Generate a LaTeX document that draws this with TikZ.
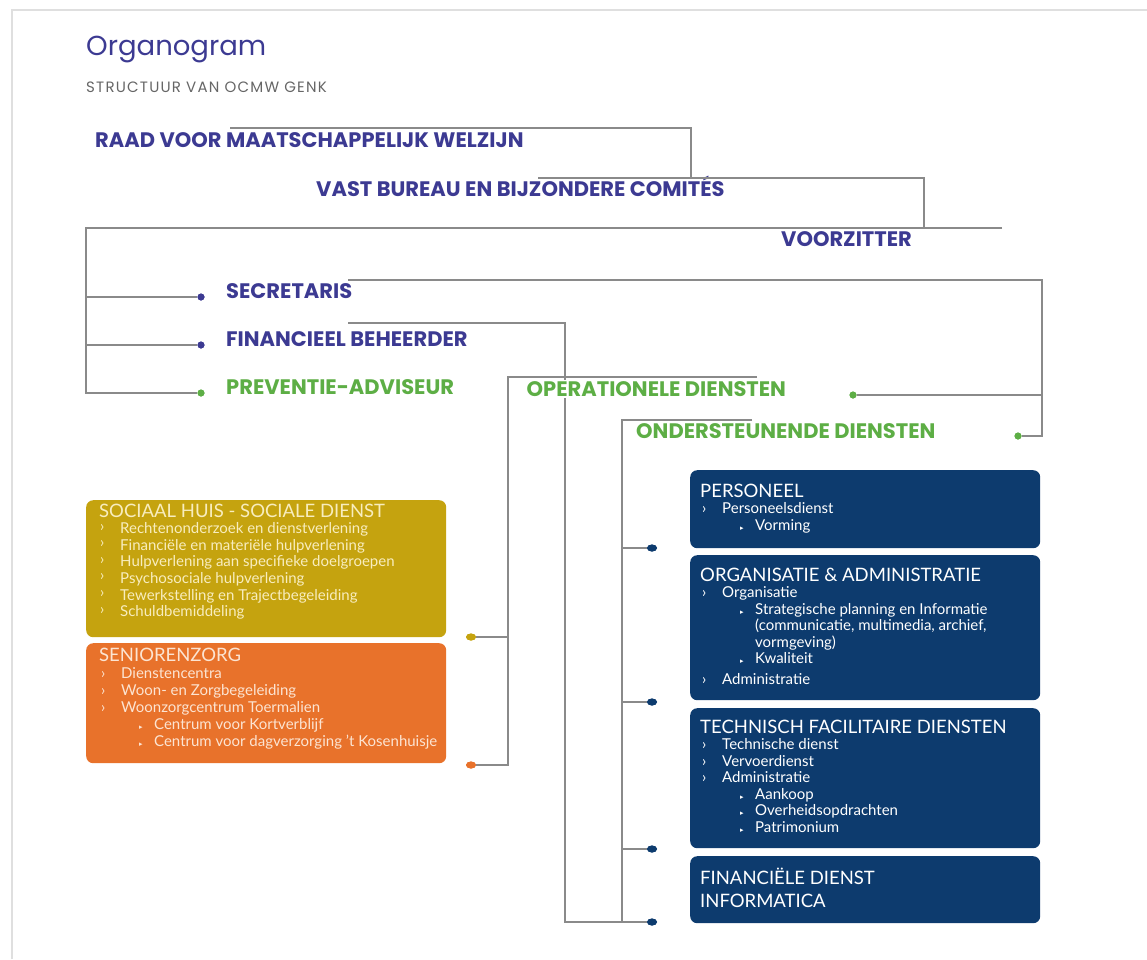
\documentclass[tikz,border=0pt]{standalone}
\usepackage{fontspec}
\setmainfont{Lato}
\newfontfamily\headfont{Poppins}
\newfontfamily\symfont{DejaVu Sans}
\usetikzlibrary{shapes.geometric}

\definecolor{headblue}{HTML}{3C3A92}
\definecolor{headgreen}{HTML}{5DAE45}
\definecolor{linegray}{HTML}{8A8A8A}
\definecolor{mustard}{HTML}{C5A30F}
\definecolor{orangebox}{HTML}{E8722B}
\definecolor{navy}{HTML}{0D3B6E}
\definecolor{cream}{HTML}{F8EDBE}
\definecolor{peach}{HTML}{FCE4D2}

% list lines inside the boxes
\newcommand{\itm}[1]{\par\noindent\makebox[22pt][l]{\kern2pt›}#1}
\newcommand{\itmup}[1]{\par\noindent\makebox[21pt][l]{\kern1pt\raisebox{2.5pt}{›}}#1}
\newcommand{\subitm}[1]{\par\noindent\makebox[55pt][l]{\hspace*{40pt}{\symfont\fontsize{7}{7}\selectfont ▸}}#1}
\newcommand{\contitm}[1]{\par\noindent\hspace*{55pt}#1}
\newcommand{\boxtext}[3][16.5pt]{\parbox[t]{340pt}{\raggedright\fontsize{18.5}{17}\selectfont #2\par\fontsize{15}{#1}\selectfont #3}}

\begin{document}
\begin{tikzpicture}[x=1pt,y=-1pt,
    head/.style={anchor=base west, inner sep=0pt, font=\headfont\bfseries\fontsize{21}{23}\selectfont, text=headblue},
    greenhead/.style={head, text=headgreen},
    conn/.style={draw=linegray, line width=1.1pt},
    dot/.style={circle, inner sep=0pt, minimum size=7pt, fill=#1},
    bdot/.style={ellipse, inner sep=0pt, minimum width=10pt, minimum height=7pt, fill=#1},
    box/.style={rectangle, rounded corners=7pt, anchor=north west, inner sep=0pt, fill=#1},
    boxtxt/.style={anchor=base west, inner sep=0pt, text=#1}]
\useasboundingbox (0,0) rectangle (1147,959);
\draw[gray!25, line width=2pt] (12,959) -- (12,10) -- (1147,10);

\node[anchor=base west, inner sep=0pt, text=headblue, font=\headfont\fontsize{27.5}{30}\selectfont] (title) at (86,55) {Organogram};
\node[anchor=base west, inner sep=0pt, text=black!60, font=\headfont\fontsize{15}{17}\selectfont\addfontfeature{LetterSpace=8}] (subtitle) at (86,92) {STRUCTUUR VAN OCMW GENK};

% headings
\node[head] (raad) at (95,147) {RAAD VOOR MAATSCHAPPELIJK WELZIJN};
\node[head] (vast) at (316,196) {VAST BUREAU EN BIJZONDERE COMITÉS};
\node[head] (voor) at (781,246) {VOORZITTER};
\node[head] (secr) at (226,298) {SECRETARIS};
\node[head] (fin) at (226,346) {FINANCIEEL BEHEERDER};
\node[greenhead] (prev) at (226,394) {PREVENTIE-ADVISEUR};
\node[greenhead] (onder) at (636,438) {ONDERSTEUNENDE DIENSTEN};

% bars above the headings
\coordinate (raadbar) at (230,128);
\coordinate (vastbar) at (538,178);
\coordinate (voorbar) at (1002,228);
\coordinate (voorleft) at (86,228);
\coordinate (secrbar) at (348,280);
\coordinate (secrright) at (1042,280);
\coordinate (finbar) at (348,323);
\coordinate (finright) at (565,323);
\coordinate (operbar) at (757,377);
\coordinate (operleft) at (508,377);
\coordinate (onderbar) at (752,420);
\coordinate (onderleft) at (622,420);

% boxes
\node[box=mustard, minimum width=360pt, minimum height=137pt] (soc) at (86,500) {};
\node[box=orangebox, minimum width=360pt, minimum height=120pt] (seni) at (86,643) {};
\node[box=navy, minimum width=350pt, minimum height=78pt] (pers) at (690,470) {};
\node[box=navy, minimum width=350pt, minimum height=145pt] (orga) at (690,555) {};
\node[box=navy, minimum width=350pt, minimum height=140pt] (tech) at (690,708) {};
\node[box=navy, minimum width=350pt, minimum height=67pt] (finb) at (690,856) {};

% dots
\node[dot=headblue] (secrdot) at (201,297) {};
\node[dot=headblue] (findot) at (201,345) {};
\node[dot=headgreen] (prevdot) at (201,393) {};
\node[dot=headgreen] (operdot) at (853,395) {};
\node[dot=headgreen] (onderdot) at (1018,436) {};
\node[bdot=mustard] (socdot) at (471,637) {};
\node[bdot=orangebox] (senidot) at (471,765) {};
\node[bdot=navy] (persdot) at (652,548) {};
\node[bdot=navy] (orgadot) at (652,702) {};
\node[bdot=navy] (techdot) at (652,849) {};
\node[bdot=navy] (finbdot) at (652,922) {};

% connectors
\draw[conn] (raadbar) -- ++(461,0) |- (vastbar);
\draw[conn] (vastbar) -- ++(386,0) |- (voorbar);
\draw[conn] (voorbar) -- (voorleft) |- (prevdot);
\draw[conn] (secrdot) -- (secrdot -| voorleft);
\draw[conn] (findot) -- (findot -| voorleft);
\draw[conn] (secrbar) -- (secrright) |- (onderdot);
\draw[conn] (operdot) -- (operdot -| secrright);
\draw[conn] (finbar) -- (finright) |- (finbdot);
\draw[conn] (operbar) -- (operleft) |- (senidot);
\draw[conn] (socdot) -- (socdot -| operleft);
\draw[conn] (onderbar) -- (onderleft) |- (finbdot);
\foreach \d in {persdot, orgadot, techdot}
  \draw[conn] (\d) -- (\d -| onderleft);
\node[greenhead, fill=white, inner sep=1.5pt] (oper) at (525,396) {OPERATIONELE DIENSTEN};
\foreach \d/\c in {prevdot/headgreen, operdot/headgreen, onderdot/headgreen, secrdot/headblue, findot/headblue}
  \node[dot=\c] at (\d) {};
\foreach \d/\c in {socdot/mustard, senidot/orangebox, persdot/navy, orgadot/navy, techdot/navy, finbdot/navy}
  \node[bdot=\c] at (\d) {};

% box texts
\node[boxtxt=cream] (soc-t) at (99,517) {\boxtext[16.6pt]{SOCIAAL HUIS - SOCIALE DIENST}{%
  \itmup{Rechtenonderzoek en dienstverlening}
  \itmup{Financiële en materiële hulpverlening}
  \itmup{Hulpverlening aan specifieke doelgroepen}
  \itmup{Psychosociale hulpverlening}
  \itmup{Tewerkstelling en Trajectbegeleiding}
  \itmup{Schuldbemiddeling}}};
\node[boxtxt=peach] (seni-t) at (99,661) {\boxtext[17pt]{SENIORENZORG}{%
  \itm{Dienstencentra}
  \itm{Woon- en Zorgbegeleiding}
  \itm{Woonzorgcentrum Toermalien}
  \subitm{Centrum voor Kortverblijf}
  \subitm{Centrum voor dagverzorging 't Kosenhuisje}}};
\node[boxtxt=white] (pers-t) at (700,497) {\boxtext{PERSONEEL}{%
  \itm{Personeelsdienst}
  \subitm{Vorming}}};
\node[boxtxt=white] (orga-t) at (700,581) {\boxtext{ORGANISATIE \& ADMINISTRATIE}{%
  \itm{Organisatie}
  \subitm{Strategische planning en Informatie}
  \contitm{(communicatie, multimedia, archief,}
  \contitm{vormgeving)}
  \subitm{Kwaliteit}
  \par\vspace{4pt}\itm{Administratie}}};
\node[boxtxt=white] (tech-t) at (700,733) {\boxtext{TECHNISCH FACILITAIRE DIENSTEN}{%
  \itm{Technische dienst}
  \itm{Vervoerdienst}
  \itm{Administratie}
  \subitm{Aankoop}
  \subitm{Overheidsopdrachten}
  \subitm{Patrimonium}}};
\node[boxtxt=white] (finb-t) at (700,884) {\parbox[t]{340pt}{\fontsize{18.5}{23}\selectfont FINANCIËLE DIENST\\INFORMATICA}};
\end{tikzpicture}
\end{document}
